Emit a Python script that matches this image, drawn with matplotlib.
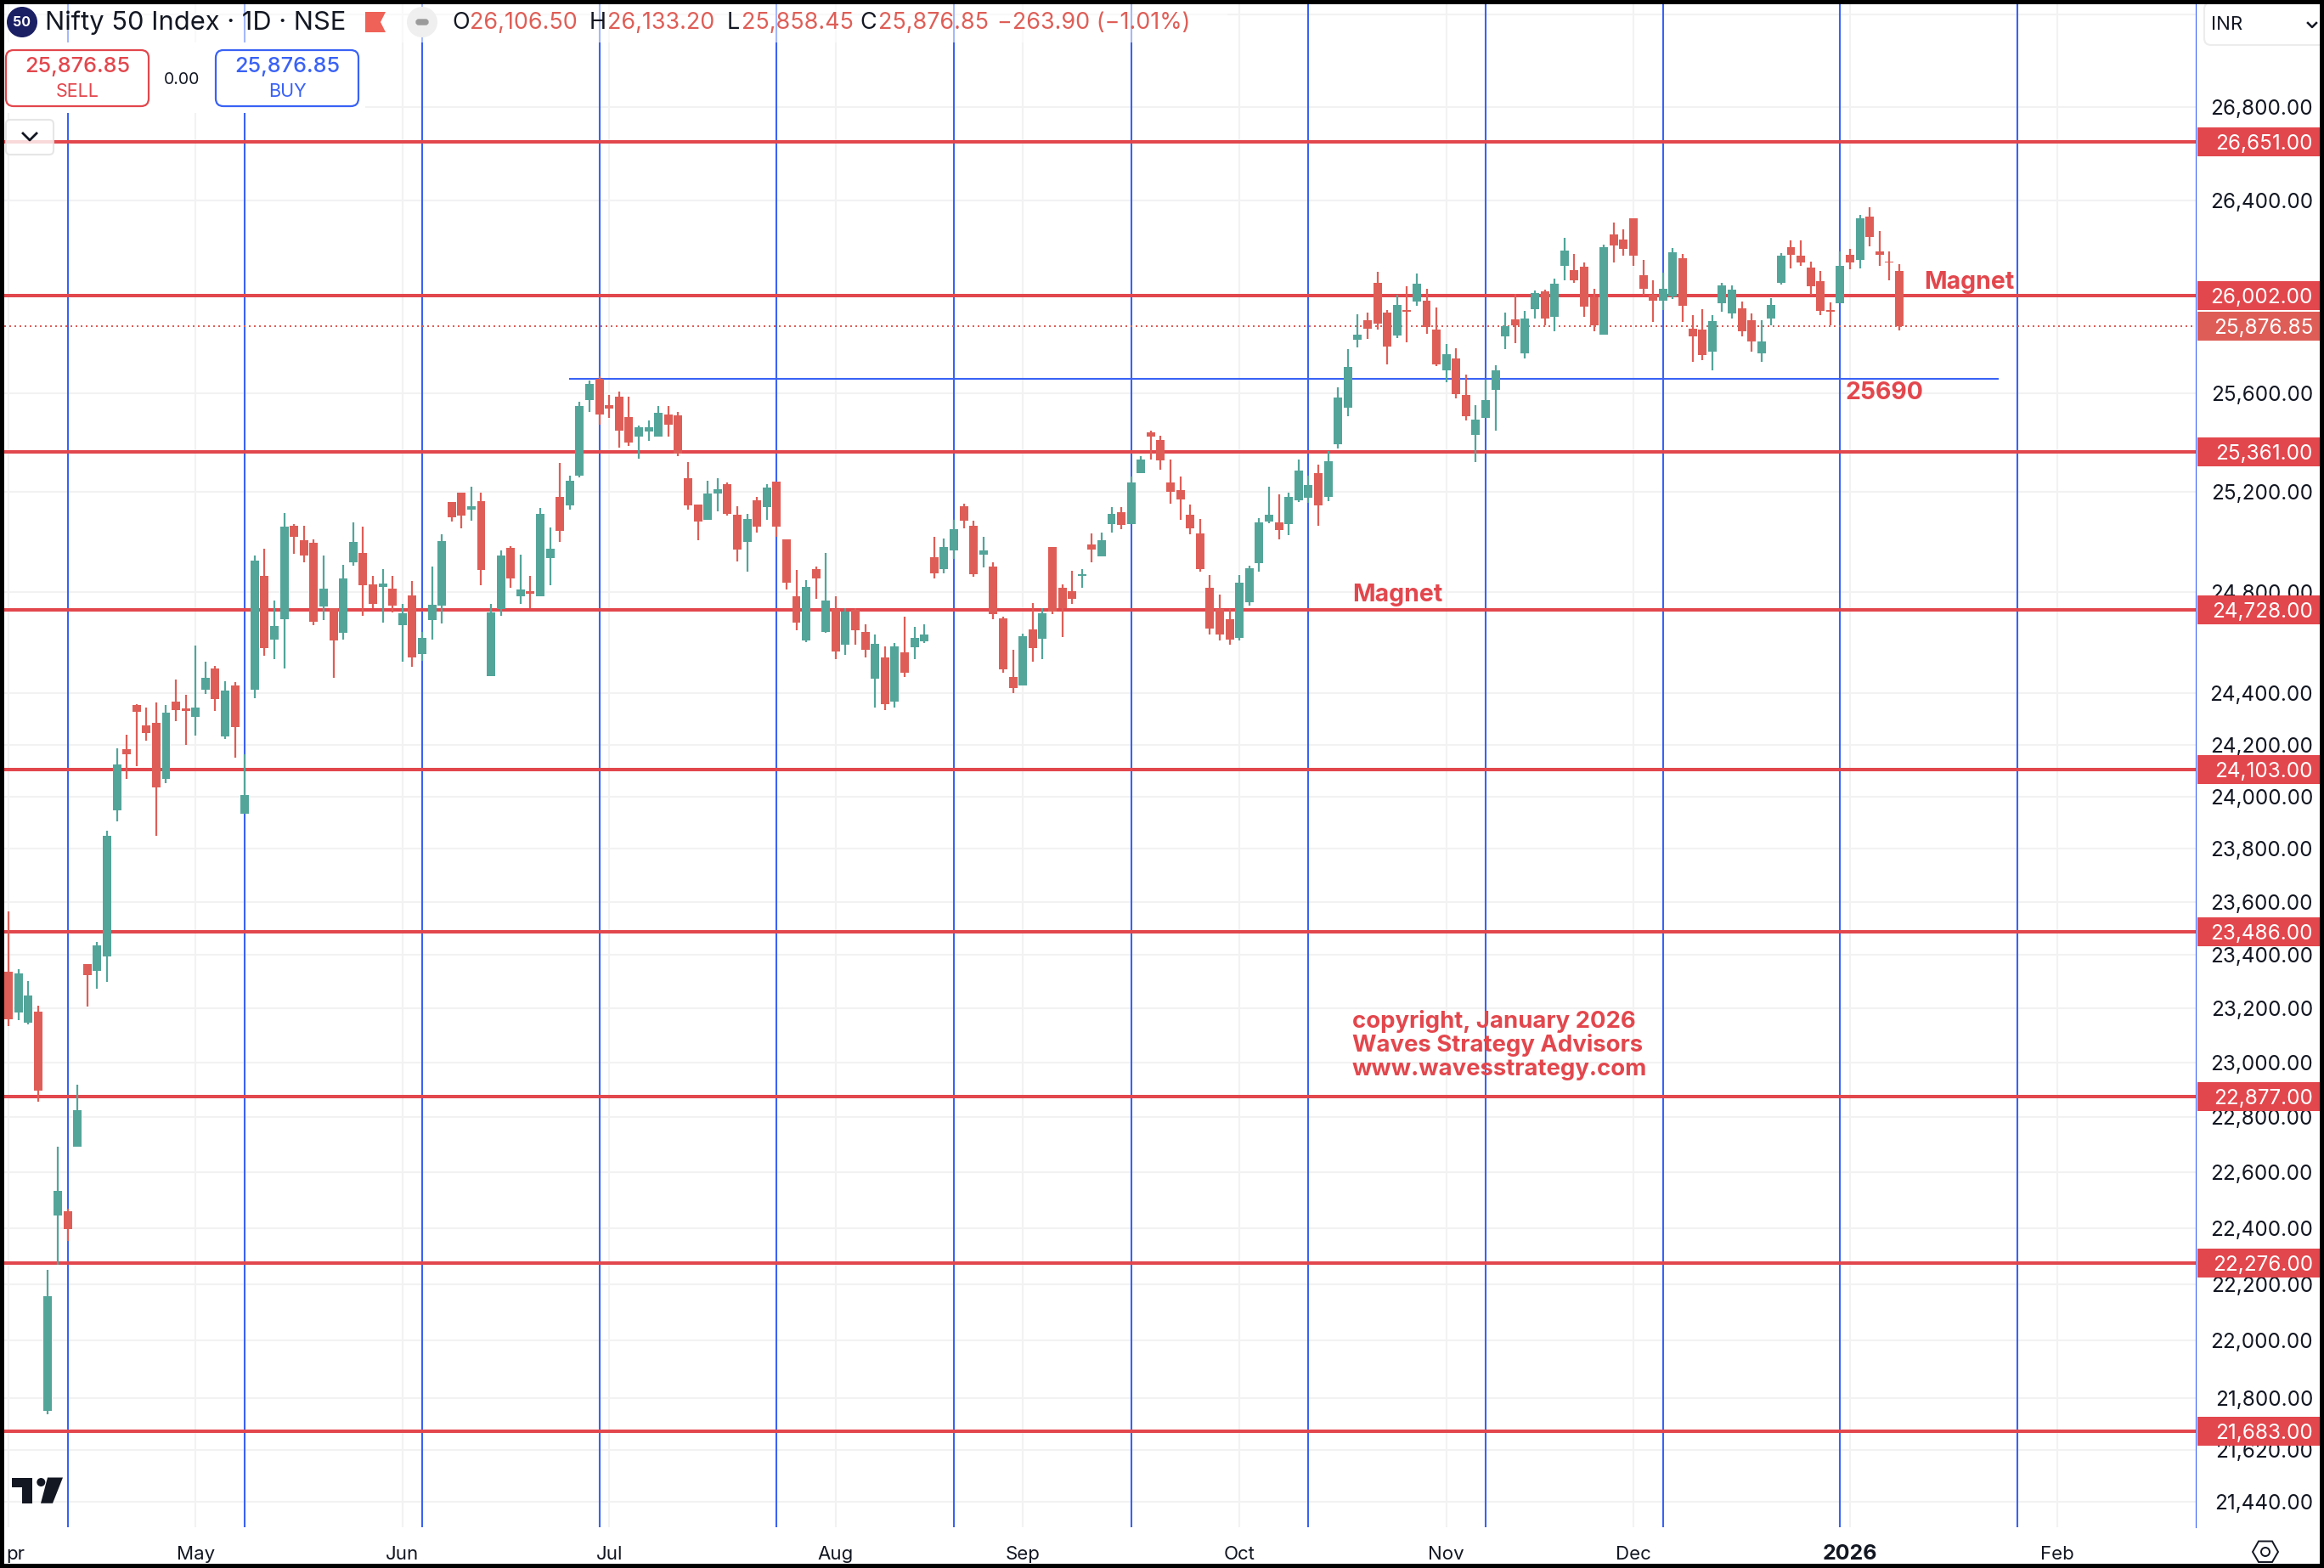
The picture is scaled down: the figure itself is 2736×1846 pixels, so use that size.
import numpy as np
import matplotlib
matplotlib.use("Agg")
import matplotlib.pyplot as plt
from matplotlib.patches import Rectangle, FancyBboxPatch, Circle, Polygon

W, H = 2736, 1846
plt.rcParams['font.family'] = ['Inter', 'DejaVu Sans']

# daily bars, oldest first
opens = [23338, 23186, 23147, 23190, 21755, 22444, 22459, 22692, 23366, 23340,
         23395, 23947, 24183, 24355, 24276, 24286, 24067, 24368, 24342, 24307,
         24415, 24497, 24231, 24431, 23934, 24415, 24864, 24609, 24690, 25064,
         25006, 24996, 24740, 24734, 24636, 24915, 24955, 24830, 24820, 24813,
         24666, 24786, 24555, 24686, 24746, 25159, 25197, 25129, 25162, 24468,
         24731, 24975, 24783, 24802, 24783, 24935, 25179, 25146, 25265, 25573,
         25659, 25551, 25586, 25502, 25424, 25445, 25424, 25513, 25509, 25255,
         25149, 25085, 25194, 25231, 25108, 24997, 25166, 25136, 25241, 25009,
         24782, 24606, 24891, 24639, 24732, 24592, 24728, 24642, 24458, 24541,
         24366, 24561, 24582, 24603, 24938, 24888, 24963, 25142, 25064, 24946,
         24898, 24695, 24464, 24429, 24652, 24614, 24979, 24816, 24802, 24864,
         24989, 24941, 25071, 25118, 25071, 25273, 25440, 25409, 25238, 25207,
         25108, 25033, 24816, 24732, 24692, 24616, 24757, 24912, 25080, 25077,
         25071, 25165, 25174, 25275, 25177, 25390, 25542, 25820, 25901, 26056,
         25933, 25838, 25944, 25979, 25982, 25862, 25692, 25743, 25593, 25431,
         25500, 25615, 25832, 25905, 25765, 25945, 26021, 25916, 26128, 26109,
         26124, 25997, 25839, 26259, 26237, 26327, 26088, 26005, 25980, 26000,
         26159, 25866, 25862, 25769, 25971, 25927, 25951, 25901, 25762, 25909,
         26054, 26205, 26169, 26120, 26064, 25944, 25971, 26173, 26153, 26334,
         26187, 26144, 26106.50]
highs = [23564, 23347, 23303, 23211, 22251, 22694, 22469, 22920, 23366, 23449,
         23871, 24187, 24240, 24359, 24345, 24365, 24355, 24454, 24395, 24588,
         24525, 24508, 24447, 24444, 24164, 24945, 24972, 24765, 25115, 25070,
         25064, 25009, 24945, 24734, 24907, 25077, 25060, 24864, 24891, 24864,
         24752, 24843, 24642, 24898, 25030, 25159, 25197, 25221, 25197, 24752,
         24965, 24982, 24948, 24864, 25135, 25057, 25317, 25265, 25565, 25653,
         25669, 25593, 25607, 25586, 25468, 25488, 25548, 25548, 25523, 25320,
         25149, 25245, 25255, 25238, 25142, 25111, 25179, 25231, 25241, 25009,
         24887, 24847, 24901, 24955, 24782, 24735, 24735, 24672, 24632, 24585,
         24598, 24702, 24662, 24672, 25019, 25013, 25087, 25152, 25084, 25019,
         24918, 24702, 24571, 24635, 24755, 24735, 24979, 24830, 24884, 24891,
         25033, 25036, 25138, 25138, 25262, 25344, 25447, 25426, 25330, 25262,
         25149, 25091, 24867, 24789, 24732, 24867, 24904, 25094, 25221, 25190,
         25197, 25330, 25265, 25310, 25365, 25625, 25782, 25926, 25933, 26102,
         25944, 26007, 26042, 26095, 26032, 25954, 25803, 25785, 25677, 25551,
         25656, 25715, 25933, 26010, 25940, 26025, 26028, 26074, 26245, 26177,
         26141, 26032, 26216, 26309, 26280, 26327, 26152, 26067, 26099, 26202,
         26177, 25922, 25947, 25922, 26056, 26046, 25979, 25930, 25901, 25993,
         26180, 26234, 26234, 26145, 26106, 25975, 26188, 26198, 26341, 26373,
         26273, 26187, 26133.20]
lows = [23134, 23156, 23142, 22856, 21742, 22270, 22353, 22692, 23207, 23273,
        23298, 23904, 24069, 24118, 24215, 23849, 24053, 24290, 24198, 24237,
        24399, 24330, 24221, 24149, 23934, 24380, 24546, 24535, 24496, 24952,
        24916, 24669, 24686, 24462, 24612, 24902, 24703, 24736, 24676, 24716,
        24525, 24502, 24528, 24612, 24673, 25078, 25054, 25082, 24827, 24468,
        24703, 24814, 24750, 24733, 24783, 24824, 24999, 25126, 25258, 25524,
        25471, 25499, 25379, 25383, 25332, 25407, 25424, 25424, 25342, 25129,
        25004, 25085, 25122, 25102, 24919, 24881, 25034, 25085, 25017, 24807,
        24646, 24599, 24770, 24636, 24535, 24551, 24589, 24539, 24343, 24336,
        24346, 24465, 24535, 24596, 24854, 24874, 24929, 25054, 24858, 24895,
        24690, 24482, 24402, 24429, 24522, 24533, 24710, 24622, 24750, 24814,
        24915, 24939, 25037, 25048, 25071, 25273, 25328, 25287, 25150, 25085,
        25027, 24878, 24629, 24606, 24589, 24606, 24746, 24881, 25074, 25007,
        25024, 25158, 25153, 25062, 25160, 25376, 25507, 25789, 25824, 25862,
        25719, 25827, 25810, 25961, 25845, 25712, 25646, 25577, 25489, 25318,
        25500, 25448, 25782, 25807, 25741, 25906, 25878, 25856, 26065, 26054,
        25913, 25856, 25839, 26142, 26170, 26125, 26001, 25892, 25941, 25987,
        25892, 25727, 25734, 25692, 25937, 25906, 25835, 25769, 25727, 25878,
        26047, 26117, 26125, 26005, 25920, 25878, 25971, 26113, 26117, 26210,
        26125, 26068, 25858.45]
closes = [23161, 23332, 23250, 22899, 22158, 22534, 22396, 22826, 23324, 23435,
          23851, 24124, 24162, 24327, 24244, 24035, 24326, 24333, 24330, 24345,
          24461, 24376, 24412, 24270, 24007, 24925, 24576, 24665, 25060, 25018,
          24943, 24680, 24813, 24606, 24853, 24999, 24824, 24750, 24833, 24746,
          24715, 24539, 24618, 24749, 25003, 25098, 25102, 25142, 24885, 24719,
          24945, 24851, 24809, 24790, 25111, 24972, 25041, 25245, 25548, 25639,
          25514, 25538, 25448, 25400, 25461, 25461, 25520, 25472, 25352, 25146,
          25078, 25193, 25210, 25109, 24966, 25091, 25058, 25217, 25058, 24835,
          24676, 24820, 24851, 24766, 24562, 24722, 24646, 24569, 24595, 24359,
          24585, 24482, 24618, 24632, 24874, 24979, 25050, 25082, 24868, 24965,
          24710, 24495, 24422, 24625, 24576, 24715, 24722, 24736, 24770, 24869,
          24969, 25006, 25111, 25065, 25238, 25330, 25421, 25325, 25198, 25167,
          25054, 24888, 24653, 24632, 24609, 24836, 24894, 25077, 25108, 25044,
          25179, 25286, 25227, 25143, 25323, 25583, 25708, 25841, 25866, 25887,
          25792, 25965, 25937, 26053, 25873, 25719, 25761, 25595, 25507, 25492,
          25572, 25694, 25876, 25878, 25908, 26014, 25906, 26053, 26191, 26065,
          25955, 25880, 26205, 26213, 26199, 26170, 26030, 25983, 26032, 26184,
          25959, 25835, 25755, 25898, 26046, 26028, 25856, 25814, 25813, 25965,
          26169, 26174, 26139, 26040, 25938, 25937, 26127, 26142, 26327, 26246,
          26174, 26139, 25876.85]

levels = [26651, 26002, 25361, 24728, 24103, 23486, 22877, 22276, 21683]
level_labels = ["26,651.00", "26,002.00", "25,361.00", "24,728.00", "24,103.00",
                "23,486.00", "22,877.00", "22,276.00", "21,683.00"]
last_price = 25876.85
blue_bars = [6, 24, 42, 60, 78, 96, 114, 132, 150, 168, 186, 204]
hline_price = 25660
hline_span = [56.9, 202.1]

price_ticks = [27200, 26800, 26400, 25600, 25200, 24800, 24400, 24200, 24000, 23800, 23600,
               23400, 23200, 23000, 22800, 22600, 22400, 22200, 22000, 21800, 21620, 21440]
month_bars = [0, 19, 40, 61, 84, 103, 125, 146, 165, 187, 208]
month_names = ["pr", "May", "Jun", "Jul", "Aug", "Sep", "Oct", "Nov", "Dec", "2026", "Feb"]

RED = '#de5e57'
GREEN = '#53a59a'
LINE_RED = '#e2474d'
BLUE = '#3a62f5'
GRID = '#f2f2f3'
DARK = '#131722'

fig = plt.figure(figsize=(W / 100, H / 100), dpi=100, facecolor='white')


def px_axes(x0, y0, x1, y1):
    return fig.add_axes([x0 / W, 1 - y1 / H, (x1 - x0) / W, (y1 - y0) / H])


# main price pane
ax = px_axes(5, 5, 2585, 1798)
ax.set_yscale('log')
ax.set_ylim(21353, 27243)
ax.set_xlim(-0.43, 222.1)
ax.axis('off')

bars = np.arange(len(closes))
o = np.array(opens)
c = np.array(closes)
colors = np.where(c >= o, GREEN, RED)

ax.hlines(price_ticks, -0.43, 222.1, color=GRID, lw=1.5, zorder=1)
ax.vlines(month_bars, 21353, 27243, color=GRID, lw=1.5, zorder=1)
ax.vlines(blue_bars, 21353, 27243, color=BLUE, lw=1.5, zorder=2)
ax.hlines(hline_price, hline_span[0], hline_span[1], color=BLUE, lw=1.5, zorder=2)
ax.hlines(levels, -0.43, 222.1, color=LINE_RED, lw=2.9, zorder=3)
ax.plot([-0.43, 222.1], [last_price, last_price], color=RED, lw=1.44, ls=(0, (1, 2)), zorder=3)

ax.vlines(bars, lows, highs, color=colors, lw=1.6, zorder=5)
ax.bar(bars, np.abs(c - o), bottom=np.minimum(o, c), width=0.86, color=colors, zorder=6)

# price scale on the right
axp = px_axes(2587, 5, 2731, 1798)
axp.set_yscale('log')
axp.set_ylim(21353, 27243)
axp.set_xlim(0, 144)
axp.axis('off')
for p in price_ticks[1:]:
    axp.text(136, p, f"{p:,.2f}", ha='right', va='center_baseline', fontsize=17.5, color=DARK, zorder=2)
for p, lab in zip(levels, level_labels):
    axp.plot([0, 144], [p, p], color=LINE_RED, lw=24.5, solid_capstyle='butt', zorder=3)
    axp.text(136, p, lab, ha='right', va='center_baseline', fontsize=17.5, color='white', zorder=4)
axp.plot([0, 144], [last_price, last_price], color=RED, lw=24.5, solid_capstyle='butt', zorder=5)
axp.text(136, last_price, f"{last_price:,.2f}", ha='right', va='center_baseline', fontsize=17.5,
         color='white', zorder=6)

# everything else is page furniture, drawn in pixels
ov = px_axes(0, 0, W, H)
ov.set_xlim(0, W)
ov.set_ylim(H, 0)
ov.axis('off')
ov.patch.set_alpha(0)

ov.plot([2585, 2585], [5, 1798], color=BLUE, lw=0.8)

for bar, name in zip(month_bars, month_names):
    xp = 5 + (bar + 0.43) * 2580 / 222.53
    if name == "pr":
        # the first label is cut by the edge of the shot, only its tail shows
        ov.text(7, 1830, name, ha='left', va='center', fontsize=16, color=DARK)
    elif name == "2026":
        ov.text(xp, 1829, name, ha='center', va='center', fontsize=18, color=DARK, fontweight='bold')
    else:
        ov.text(xp, 1830, name, ha='center', va='center', fontsize=16, color=DARK)

# header strip
ov.add_patch(Rectangle((5, 5), 1440, 45, fc='white', ec='none', alpha=0.55))
ov.add_patch(Rectangle((5, 50), 425, 83, fc='white', ec='none'))
ov.add_patch(Circle((26, 26), 18, fc='#1b1f63', ec='none'))
ov.text(26, 26.5, "50", ha='center', va='center', fontsize=11.5, color='white', fontweight='bold')
ov.text(53, 27, "Nifty 50 Index · 1D · NSE", ha='left', va='center', fontsize=22.2, color=DARK)
ov.add_patch(Polygon([(430, 14), (454, 14), (448, 26), (454, 38), (430, 38)], fc='#ee6258', ec='none'))
ov.add_patch(Circle((497, 26), 18, fc='#efefef', ec='none'))
ov.add_patch(FancyBboxPatch((490, 23), 14, 6, boxstyle="round,pad=0,rounding_size=3", fc='#9b9b9b', ec='#9b9b9b', lw=1))

legend_bits = [(532, "O", DARK), (553, "26,106.50", RED), (694, "H", DARK), (715, "26,133.20", RED),
               (856, "L", DARK), (873, "25,858.45", RED), (1012, "C", DARK), (1034, "25,876.85", RED),
               (1174, "\u2212263.90 (\u22121.01%)", RED)]
for xp, txt, col in legend_bits:
    ov.text(xp, 27, txt, ha='left', va='center', fontsize=19.4, color=col)

ov.add_patch(FancyBboxPatch((7, 59), 168, 66, boxstyle="round,pad=0,rounding_size=9", fc='white', ec=LINE_RED, lw=1.6))
ov.add_patch(FancyBboxPatch((254, 59), 168, 66, boxstyle="round,pad=0,rounding_size=9", fc='white', ec=BLUE, lw=1.6))
ov.text(91, 79, "25,876.85", ha='center', va='center', fontsize=18.2, color=LINE_RED, fontweight='medium')
ov.text(91, 108, "SELL", ha='center', va='center', fontsize=15.5, color=LINE_RED)
ov.text(338, 79, "25,876.85", ha='center', va='center', fontsize=18.2, color=BLUE, fontweight='medium')
ov.text(338, 108, "BUY", ha='center', va='center', fontsize=15.5, color=BLUE)
ov.text(214, 94, "0.00", ha='center', va='center', fontsize=14, color=DARK)

ov.add_patch(FancyBboxPatch((7, 141), 56, 41, boxstyle="round,pad=0,rounding_size=5", fc='white', ec='#e0e0e0',
                            lw=1.5, alpha=0.8))
ov.plot([27, 35, 43], [157, 165, 157], color=DARK, lw=2)

# currency box
ov.add_patch(FancyBboxPatch((2595, 3), 150, 50, boxstyle="round,pad=0,rounding_size=8", fc='white', ec='#ececec', lw=1.5))
ov.text(2603, 29, "INR", ha='left', va='center', fontsize=16, color=DARK)
ov.plot([2717, 2722, 2727], [27, 32, 27], color=DARK, lw=1.8)

# chart notes
ov.text(1592, 700, "Magnet", ha='left', va='center', fontsize=20.5, color=LINE_RED, fontweight='bold')
ov.text(2265, 332, "Magnet", ha='left', va='center', fontsize=20.5, color=LINE_RED, fontweight='bold')
ov.text(2172, 462, "25690", ha='left', va='center', fontsize=20.5, color=LINE_RED, fontweight='bold')
for yp, line in zip([1203, 1231, 1259], ["copyright, January 2026", "Waves Strategy Advisors", "www.wavesstrategy.com"]):
    ov.text(1592, yp, line, ha='left', va='center', fontsize=19.8, color=LINE_RED, fontweight='bold')

# logo
ov.add_patch(Polygon([(14, 1739.5), (38, 1739.5), (38, 1769.8), (26, 1769.8), (26, 1751), (14, 1751)], fc=DARK, ec='none'))
ov.add_patch(Circle((48.3, 1745), 5, fc=DARK, ec='none'))
ov.add_patch(Polygon([(56, 1739.5), (74, 1739.5), (62, 1769.8), (48, 1769.8)], fc=DARK, ec='none'))

# settings hexagon
ov.add_patch(Polygon([(2652, 1827), (2659, 1814.5), (2675, 1814.5), (2682, 1827), (2675, 1839), (2659, 1839)],
                     fc='white', ec=DARK, lw=1.4))
ov.add_patch(Circle((2667, 1827), 5, fc='white', ec=DARK, lw=1.4))

# black frame round the shot
fig.add_artist(Rectangle((0, 0), 1, 1, transform=fig.transFigure, fill=False, ec='black', lw=7.2, zorder=20))

fig.savefig('out.png', dpi=100)
